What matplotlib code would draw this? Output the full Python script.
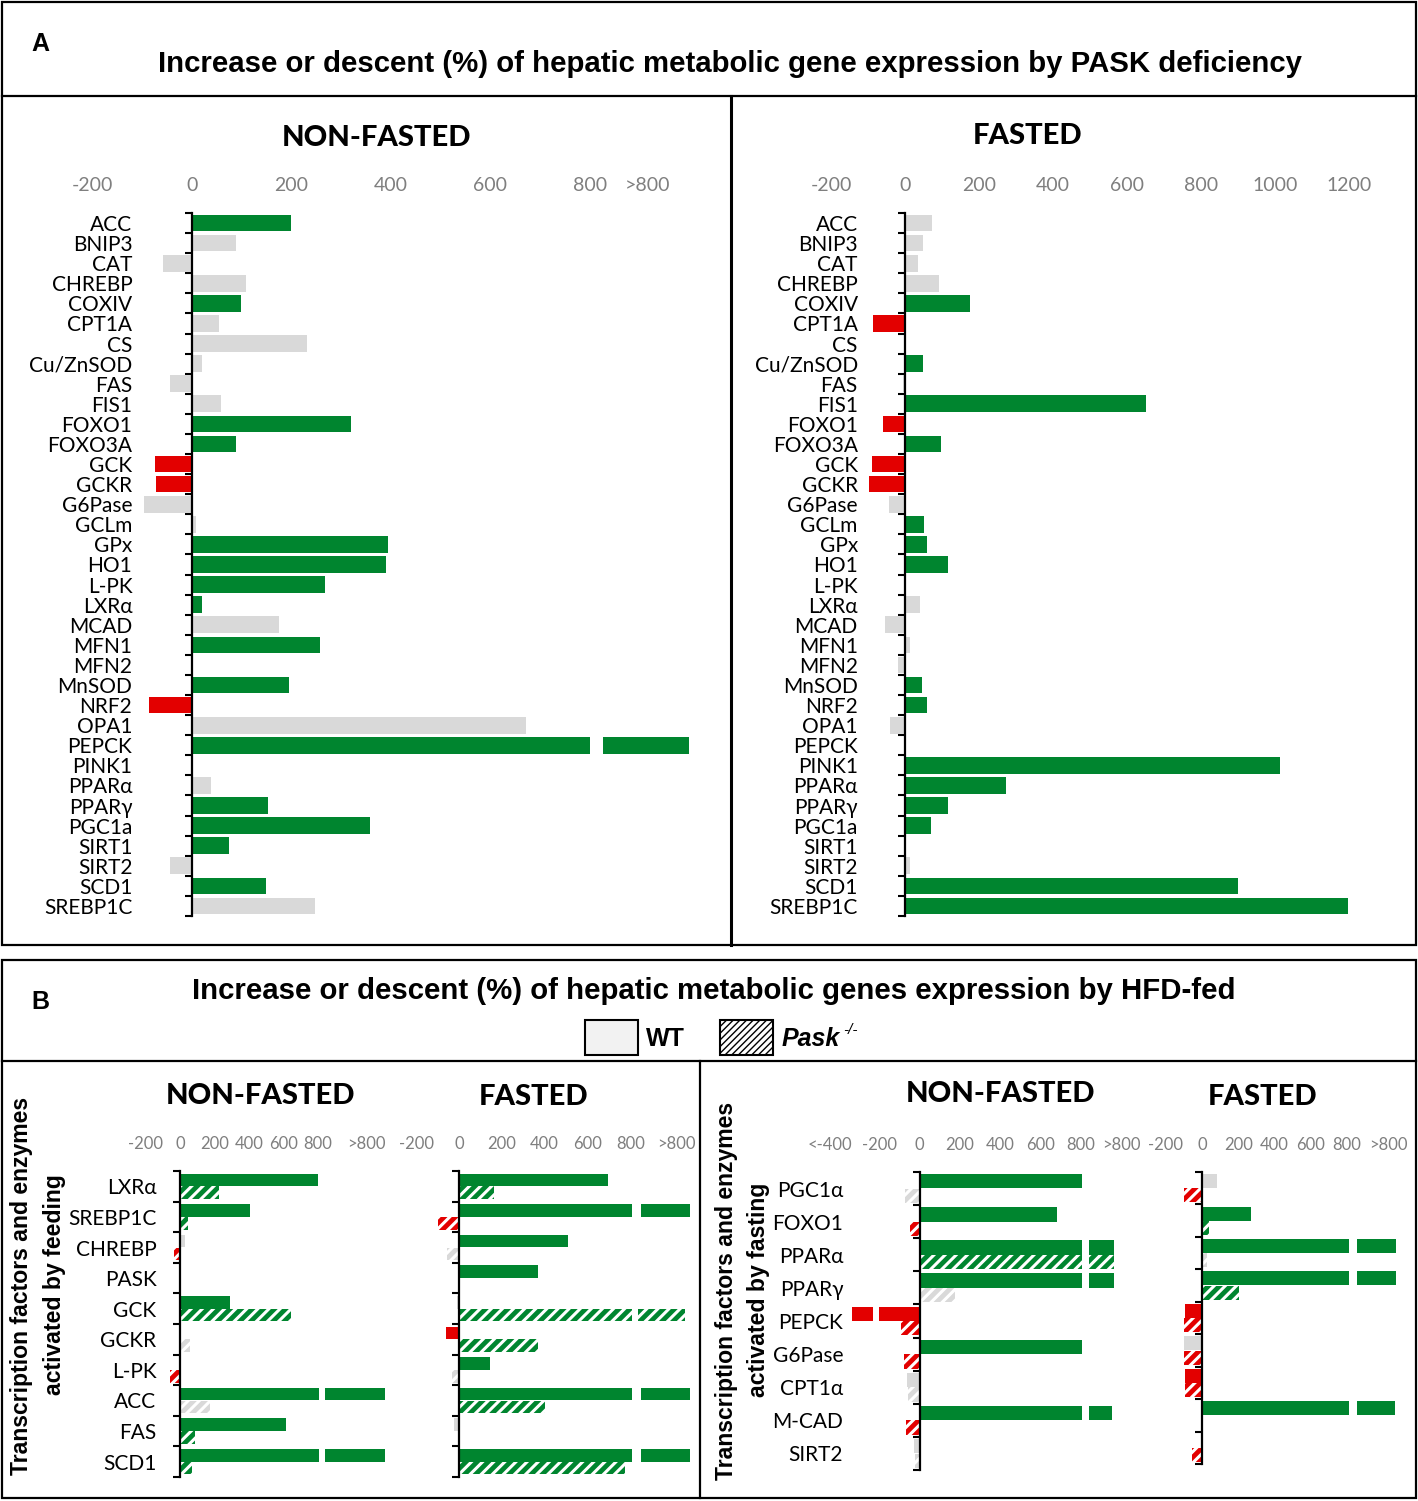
import numpy as np
import matplotlib
matplotlib.use("Agg")
import matplotlib.pyplot as plt
from matplotlib.patches import Rectangle

plt.rcParams["font.family"] = ["Lato", "DejaVu Sans"]
plt.rcParams["hatch.linewidth"] = 2.2

W, H = 1418, 1501
GREEN = "#00852f"
RED = "#e30000"
GREY = "#d9d9d9"
TICK_GREY = "#7f7f7f"
SIG_COLOR = {"g": GREEN, "r": RED, "n": GREY, "-": GREY}
ARIAL = ["Liberation Sans", "DejaVu Sans"]

# ── Panel A data: % change by PASK deficiency ─────────────────────────────────
genes_a = ["ACC", "BNIP3", "CAT", "CHREBP", "COXIV", "CPT1A", "CS", "Cu/ZnSOD",
           "FAS", "FIS1", "FOXO1", "FOXO3A", "GCK", "GCKR", "G6Pase", "GCLm",
           "GPx", "HO1", "L-PK", "LXRα", "MCAD", "MFN1", "MFN2", "MnSOD", "NRF2",
           "OPA1", "PEPCK", "PINK1", "PPARα", "PPARγ", "PGC1a", "SIRT1", "SIRT2",
           "SCD1", "SREBP1C"]
a_nonfasted = [200, 89, -59, 109, 98, 54, 232, 21, -44, 59, 320, 89, -75, -72,
               -97, 9, 394, 391, 267, 21, 175, 257, 0, 195, -86, 673, 1000, 0,
               39, 152, 359, 74, -44, 149, 247]
a_nonfasted_sig = list("gnnngnnnnnggrrnngggg" "ng-grng-ngggng" "n")
a_fasted = [74, 49, 35, 91, 175, -86, 0, 48, -6, 652, -60, 98, -88, -98, -42, 51,
            60, 115, 0, 40, -55, 13, -20, 45, 59, -41, 0, 1013, 274, 117, 71, 0,
            13, 900, 1196]
a_fasted_sig = list("nnnngr-gngrgrrnggg-nnnnggn-gggg-ngg")

# ── Panel B data: % change by HFD (WT and Pask-/-) ───────────────────────────
genes_feed = ["LXRα", "SREBP1C", "CHREBP", "PASK", "GCK", "GCKR", "L-PK", "ACC",
              "FAS", "SCD1"]
feed_nf_wt = [803, 408, 31, 0, 291, 0, 0, 1190, 616, 1190]
feed_nf_wt_sig = list("ggn-g--ggg")
feed_nf_ko = [226, 44, -34, 0, 644, 57, -60, 174, 88, 70]
feed_nf_ko_sig = list("ggr-gnrngg")
feed_f_wt = [698, 1081, 508, 367, -10, -60, 144, 1081, -25, 1078]
feed_f_wt_sig = list("ggggnrggng")
feed_f_ko = [163, -98, -56, 0, 1058, 367, -31, 404, 0, 777]
feed_f_ko_sig = list("grn-ggng-g")

genes_fast = ["PGC1α", "FOXO1", "PPARα", "PPARγ", "PEPCK", "G6Pase", "CPT1α",
              "M-CAD", "SIRT2"]
fast_nf_wt = [809, 686, 966, 968, -334, 809, -61, 955, -27]
fast_nf_wt_sig = list("ggggrgngn")
fast_nf_ko = [-75, -50, 966, 177, -91, -80, -57, -68, -23]
fast_nf_ko_sig = list("nrgnrrnrn")
fast_f_wt = [84, 268, 1071, 1071, -94, -99, -94, 1064, 0]
fast_f_wt_sig = list("ngggrnrg-")
fast_f_ko = [-99, 38, 25, 205, -99, -99, -94, 0, -56]
fast_f_ko_sig = list("rgngrrr-r")

ticks_std = ["-200", "0", "200", "400", "600", "800", ">800"]


# ── helpers ───────────────────────────────────────────────────────────────────
def px_axes(fig, spine, ppu, xlim, top, bottom):
    left = spine + xlim[0] * ppu
    right = spine + xlim[1] * ppu
    ax = fig.add_axes([left / W, 1 - bottom / H, (right - left) / W, (bottom - top) / H])
    ax.set_xlim(xlim)
    ax.set_facecolor("none")
    return ax


def setup(ax, n, ticks, ticklabels, labels, label_pad, label_size, tick_size, tick_pad):
    ax.set_ylim(n - 0.5, -0.5)
    for s in ["top", "right", "bottom"]:
        ax.spines[s].set_visible(False)
    ax.spines["left"].set_position(("data", 0))
    ax.spines["left"].set_linewidth(1.6)
    ax.xaxis.tick_top()
    ax.set_xticks(ticks, ticklabels)
    ax.tick_params(axis="x", length=0, labelcolor=TICK_GREY, labelsize=tick_size, pad=tick_pad)
    ax.set_yticks(range(n))
    if labels is None:
        ax.set_yticklabels([])
    else:
        ax.set_yticklabels(labels)
    ax.tick_params(axis="y", which="major", length=0, labelsize=label_size, pad=label_pad)
    ax.set_yticks(np.arange(n + 1) - 0.5, minor=True)
    ax.tick_params(axis="y", which="minor", length=5, width=1.5, direction="out")


def draw_bars(ax, values, sigs, offset, height, hatched, brk):
    hi_at, hi_resume, lo_at, lo_resume = brk
    for i, (v, s) in enumerate(zip(values, sigs)):
        if v == 0:
            continue
        if v > hi_at:
            segs = [(0, hi_at), (hi_resume, v)]
        elif v < lo_at:
            segs = [(lo_at, 0), (v, lo_resume)]
        else:
            segs = [(0, v)]
        col = SIG_COLOR[s]
        for a, b in segs:
            if hatched:
                ax.barh(i + offset, b - a, left=a, height=height, color=col,
                        edgecolor="white", hatch="///", linewidth=0, zorder=2)
            else:
                ax.barh(i + offset, b - a, left=a, height=height, color=col,
                        linewidth=0, zorder=2)


fig = plt.figure(figsize=(W / 100, H / 100), dpi=100)

# ── background: frames, titles, legend ────────────────────────────────────────
bg = fig.add_axes([0, 0, 1, 1])
bg.set_xlim(0, W)
bg.set_ylim(H, 0)
bg.axis("off")
lw = 1.6
bg.add_patch(Rectangle((2, 2), 1414, 943, fill=False, lw=lw, ec="black"))
bg.plot([2, 1416], [96, 96], color="black", lw=lw)
bg.plot([731, 731], [96, 945], color="black", lw=2.2)
bg.add_patch(Rectangle((2, 960), 1414, 538, fill=False, lw=lw, ec="black"))
bg.plot([2, 1416], [1061, 1061], color="black", lw=lw)
bg.plot([700, 700], [1061, 1498], color="black", lw=lw)

bg.text(40, 44, "A", fontsize=18, fontweight="bold", family=ARIAL, ha="center", va="center")
bg.text(730, 64, "Increase or descent (%) of hepatic metabolic gene expression by PASK deficiency",
        fontsize=21.2, fontweight="bold", family=ARIAL, ha="center", va="center")
bg.text(40, 1002, "B", fontsize=18, fontweight="bold", family=ARIAL, ha="center", va="center")
bg.text(714, 991, "Increase or descent (%) of hepatic metabolic genes expression by HFD-fed",
        fontsize=21.2, fontweight="bold", family=ARIAL, ha="center", va="center")

# legend
bg.add_patch(Rectangle((585, 1020), 53, 35, fc="#f2f2f2", ec="black", lw=1.5))
leg_h = Rectangle((720, 1020), 53, 35, fc="white", ec="black", lw=1.5, hatch="/////")
if hasattr(leg_h, "set_hatch_linewidth"):
    leg_h.set_hatch_linewidth(1.0)
bg.add_patch(leg_h)
bg.text(646, 1039, "WT", fontsize=18, fontweight="bold", family=ARIAL, ha="left", va="center")
bg.text(782, 1039, "Pask", fontsize=18, fontweight="bold", style="italic", family=ARIAL,
        ha="left", va="center")
bg.text(843, 1030, "-/-", fontsize=11, style="italic", family=ARIAL, ha="left", va="center")

# sub-panel titles
for x, y, t in [(376, 138, "NON-FASTED"), (1028, 136, "FASTED"),
                (260, 1096, "NON-FASTED"), (534, 1097, "FASTED"),
                (1001, 1094, "NON-FASTED"), (1263, 1097, "FASTED")]:
    bg.text(x, y, t, fontsize=21, fontweight="black", ha="center", va="center")

# rotated group labels
for x, y, t in [(22, 1286, "Transcription factors and enzymes"),
                (55, 1285, "activated by feeding"),
                (726, 1291, "Transcription factors and enzymes"),
                (758, 1290, "activated by fasting")]:
    bg.text(x, y, t, fontsize=16.6, fontweight="bold", family=ARIAL, rotation=90,
            ha="center", va="center")

# ── Panel A axes ──────────────────────────────────────────────────────────────
n_a = len(genes_a)
ax1 = px_axes(fig, 192, 0.497, (-230, 1000), 213, 916)
setup(ax1, n_a, [-200, 0, 200, 400, 600, 800, 917], ticks_std, genes_a,
      43, 15, 14, 14)
draw_bars(ax1, a_nonfasted, a_nonfasted_sig, 0, 0.83, False, (801, 826, -1e9, 0))

ax2 = px_axes(fig, 905, 0.37, (-250, 1300), 213, 916)
setup(ax2, n_a, list(range(-200, 1201, 200)), [str(v) for v in range(-200, 1201, 200)],
      genes_a, 34, 15, 14, 14)
draw_bars(ax2, a_fasted, a_fasted_sig, 0, 0.83, False, (1e9, 0, -1e9, 0))

# ── Panel B axes ──────────────────────────────────────────────────────────────
n_f = len(genes_feed)
ax3 = px_axes(fig, 180, 0.172, (-260, 1200), 1171, 1477)
setup(ax3, n_f, [-200, 0, 200, 400, 600, 800, 1081], ticks_std, genes_feed,
      17, 15, 12, 14)
draw_bars(ax3, feed_nf_wt, feed_nf_wt_sig, -0.21, 0.41, False, (810, 845, -1e9, 0))
draw_bars(ax3, feed_nf_ko, feed_nf_ko_sig, 0.21, 0.41, True, (810, 845, -1e9, 0))

ax4 = px_axes(fig, 459, 0.214, (-250, 1100), 1171, 1477)
setup(ax4, n_f, [-200, 0, 200, 400, 600, 800, 1016], ticks_std, None,
      17, 15, 12, 14)
draw_bars(ax4, feed_f_wt, feed_f_wt_sig, -0.21, 0.41, False, (808, 850, -1e9, 0))
draw_bars(ax4, feed_f_ko, feed_f_ko_sig, 0.21, 0.41, True, (808, 835, -1e9, 0))

n_s = len(genes_fast)
ax5 = px_axes(fig, 920, 0.2018, (-480, 1000), 1172, 1470)
setup(ax5, n_s, [-448, -200, 0, 200, 400, 600, 800, 1006], ["<-400"] + ticks_std,
      genes_fast, 55, 15, 12, 14)
draw_bars(ax5, fast_nf_wt, fast_nf_wt_sig, -0.22, 0.43, False, (809, 845, -200, -232))
draw_bars(ax5, fast_nf_ko, fast_nf_ko_sig, 0.22, 0.43, True, (809, 845, -200, -232))

ax6 = px_axes(fig, 1202, 0.181, (-250, 1100), 1172, 1464)
setup(ax6, n_s, [-200, 0, 200, 400, 600, 800, 1028], ticks_std, None,
      17, 15, 12, 14)
draw_bars(ax6, fast_f_wt, fast_f_wt_sig, -0.22, 0.43, False, (813, 858, -1e9, 0))
draw_bars(ax6, fast_f_ko, fast_f_ko_sig, 0.22, 0.43, True, (813, 858, -1e9, 0))

fig.savefig("out.png", dpi=100)
